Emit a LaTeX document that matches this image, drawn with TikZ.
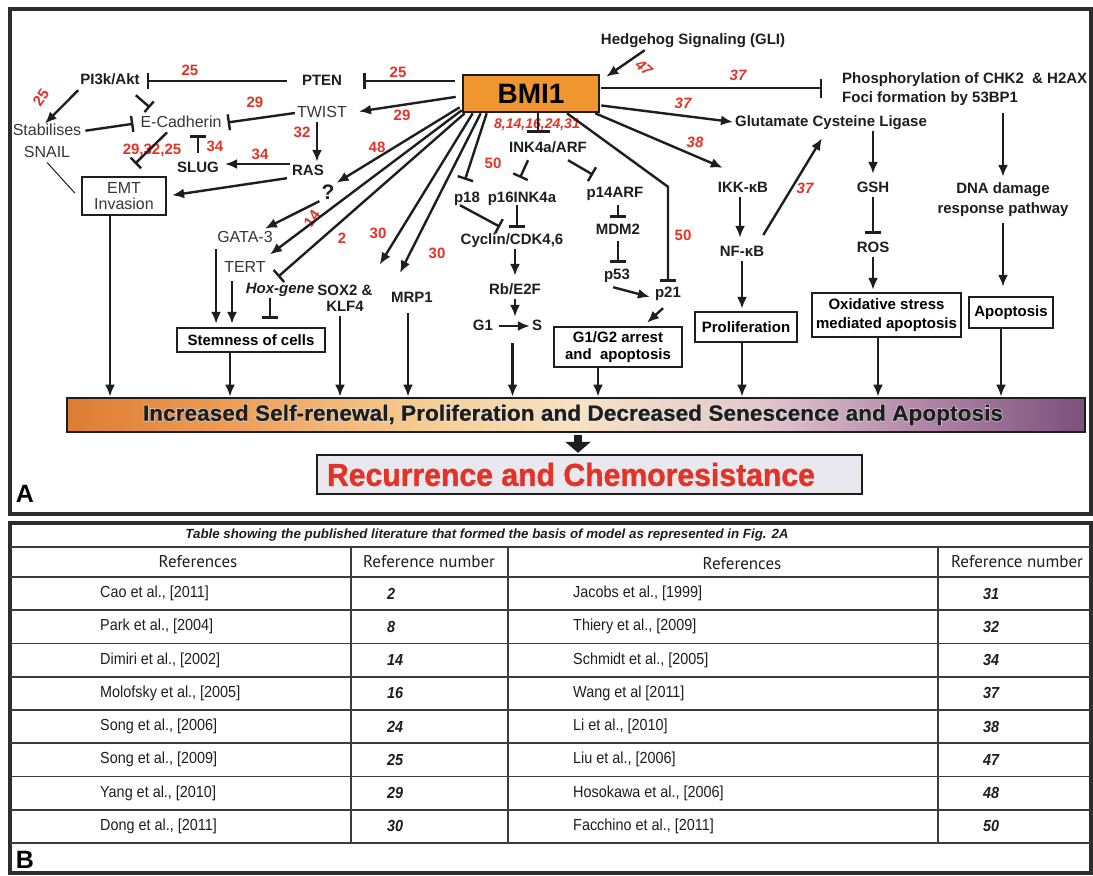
\documentclass[tikz,border=0pt]{standalone}
\usepackage{fontspec}
\setmainfont{Liberation Sans}
\newfontfamily\condfont[FakeStretch=0.9]{Liberation Sans}
\newfontfamily\hdrfont{PT Sans}
\newfontfamily\heavyfont{Liberation Sans Bold}[FakeBold=1.2]
\newfontfamily\halofont{Liberation Sans Bold}[FakeBold=5]
\usepackage{graphicx}
\usetikzlibrary{arrows.meta,calc}
\definecolor{refred}{RGB}{229,50,38}
\definecolor{bmiorange}{RGB}{240,150,48}
\definecolor{ink}{RGB}{30,30,30}
\definecolor{gr}{RGB}{55,55,55}
\definecolor{frame}{RGB}{45,45,45}
\definecolor{tline}{RGB}{60,60,60}
\definecolor{recfill}{RGB}{232,232,238}
\definecolor{s0}{RGB}{221,124,50}
\definecolor{s1}{RGB}{236,155,85}
\definecolor{s2}{RGB}{246,205,145}
\definecolor{s3}{RGB}{246,226,196}
\definecolor{s4}{RGB}{226,200,206}
\definecolor{s5}{RGB}{175,130,165}
\definecolor{s6}{RGB}{125,80,125}
\pgfdeclarehorizontalshading{barshade}{100bp}{color(0bp)=(s0); color(25bp)=(s0); color(32.5bp)=(s1); color(42.5bp)=(s2); color(50bp)=(s3); color(59bp)=(s4); color(67.5bp)=(s5); color(75bp)=(s6); color(100bp)=(s6)}
\tikzset{
  lb/.style={font=\fontsize{15}{17}\selectfont\bfseries, text=ink, inner sep=2pt, text height=11pt, text depth=3pt},
  lbm/.style={font=\fontsize{15}{16}\selectfont\bfseries, text=ink, inner sep=2pt, align=center},
  rg/.style={font=\fontsize{16}{18}\selectfont, text=gr, inner sep=2pt, text height=11.5pt, text depth=3pt},
  rn/.style={font=\fontsize{15}{17}\selectfont\bfseries, text=refred, inner sep=1pt},
  rni/.style={font=\fontsize{15}{17}\selectfont\bfseries\itshape, text=refred, inner sep=1pt},
  act/.style={draw=ink, line width=2.4pt, -{Latex[length=12pt,width=10pt]}},
  inh/.style={draw=ink, line width=2.4pt, -{Bar[width=16pt,line width=2.4pt]}},
  bx/.style={draw=ink, line width=2.4pt, fill=white, inner sep=2pt, align=center},
  tl/.style={draw=tline, line width=1.6pt},
  tref/.style={font=\condfont\fontsize{16}{18}\selectfont, text=ink, anchor=west, inner sep=0pt},
  tnum/.style={font=\condfont\fontsize{16}{18}\selectfont\bfseries\itshape, text=ink, anchor=west, inner sep=0pt},
  thd/.style={font=\hdrfont\fontsize{17}{19}\selectfont, text=ink, inner sep=0pt},
}
\begin{document}
\begin{tikzpicture}[x=1pt,y=-1pt]
\useasboundingbox (0,0) rectangle (1093,876);
\fill[white] (0,0) rectangle (1093,876);
% ---------- panel frames ----------
\draw[line width=3.2pt, draw=frame] (10,9) rectangle (1091,514);
\draw[line width=3.2pt, draw=frame] (10,523) rectangle (1091,873);

% ---------- nodes, left part ----------
\node[lb] (pi3k) at (110,80) {PI3k/Akt};
\node[lb] (pten) at (322,81) {PTEN};
\node[rg] (twist) at (322,113) {TWIST};
\node[rg] (ecad) at (181,123) {E-Cadherin};
\node[rg] (stab) at (47,131) {Stabilises};
\node[rg] (snail) at (47,153) {SNAIL};
\node[lb] (slug) at (198,168) {SLUG};
\node[lb] (ras) at (308,171) {RAS};
\node[font=\fontsize{21}{21}\selectfont\bfseries, text=ink, inner sep=2pt, text height=14pt, text depth=0pt] (q) at (328,192) {?};
\node[bx, font=\fontsize{16}{16}\selectfont, text=gr, minimum width=84pt, minimum height=38pt] (emt) at (124,196) {EMT\\Invasion};
\node[rg] (gata) at (245,238) {GATA-3};
\node[rg] (tert) at (245,268) {TERT};
\node[lb, font=\fontsize{15}{17}\selectfont\bfseries\itshape] (hox) at (280,289) {Hox-gene};
\node[lbm] (sox) at (345,298) {SOX2 \&\\KLF4};
\node[lb] (mrp) at (412,298) {MRP1};
\node[bx, font=\fontsize{15}{17}\selectfont\bfseries, minimum width=148pt, minimum height=24pt] (stem) at (251,340) {Stemness of cells};

% ---------- BMI1 and centre ----------
\node[draw=ink, line width=2.6pt, fill=bmiorange, minimum width=136pt, minimum height=37pt, inner sep=0pt, font=\fontsize{28}{28}\selectfont\bfseries, text=black] (bmi) at (531,93.5) {BMI1};
\node[lb] (hh) at (693,40) {Hedgehog Signaling (GLI)};
\node[lb] (ink) at (548,148) {INK4a/ARF};
\node[lb] (p18) at (467,198) {p18};
\node[lb] (p16) at (522,198) {p16INK4a};
\node[lb] (p14) at (615,193) {p14ARF};
\node[lb] (mdm2) at (618,230) {MDM2};
\node[lb] (p53) at (617,275) {p53};
\node[lb] (p21) at (668,293) {p21};
\node[lb] (cyc) at (512,240) {Cyclin/CDK4,6};
\node[lb] (rb) at (515,290) {Rb/E2F};
\node[lb] (g1) at (483,326) {G1};
\node[lb] (s) at (537,326) {S};
\node[bx, font=\fontsize{15}{17}\selectfont\bfseries, minimum width=128pt, minimum height=40pt] (g1g2) at (618,347) {G1/G2 arrest\\and\ \ apoptosis};

% ---------- right part ----------
\node[lbm, align=left, anchor=west, font=\fontsize{15}{19}\selectfont\bfseries] (phos) at (840,89.5) {Phosphorylation of CHK2\ \ \& H2AX\\Foci formation by 53BP1};
\node[lb] (glu) at (831,122) {Glutamate Cysteine Ligase};
\node[lb] (ikk) at (743,188) {IKK-κB};
\node[lb] (nfkb) at (742,252) {NF-κB};
\node[bx, font=\fontsize{15}{17}\selectfont\bfseries, minimum width=102pt, minimum height=30pt] (prolif) at (746,327) {Proliferation};
\node[lb] (gsh) at (873,188) {GSH};
\node[lb] (ros) at (873,248) {ROS};
\node[bx, font=\fontsize{15}{19}\selectfont\bfseries, minimum width=149pt, minimum height=44pt] (oxi) at (886.5,315) {Oxidative stress\\mediated apoptosis};
\node[lbm, font=\fontsize{15}{20}\selectfont\bfseries] (dna) at (1003,200) {DNA damage\\response pathway};
\node[bx, font=\fontsize{15}{17}\selectfont\bfseries, minimum width=84pt, minimum height=31pt] (apop) at (1011,312.5) {Apoptosis};

% ---------- bottom bars ----------
\node[draw=ink, line width=2.6pt, shade, shading=barshade, minimum width=1018pt, minimum height=34pt, inner sep=0pt] (bar) at (576,415) {};
\node[text=white, inner sep=0pt] (barhalo) at (573,415) {\resizebox{860pt}{16pt}{\halofont Increased Self-renewal, Proliferation and Decreased Senescence and Apoptosis}};
\node[text=ink, inner sep=0pt] (bartext) at (573,415) {\resizebox{860pt}{16pt}{\heavyfont Increased Self-renewal, Proliferation and Decreased Senescence and Apoptosis}};
\node[draw=ink, line width=2.4pt, fill=recfill, minimum width=545pt, minimum height=39pt, inner sep=0pt] (rec) at (589.5,474.5) {};
\node[text=refred, inner sep=0pt] (rectext) at (571,474.5) {\resizebox{488pt}{23pt}{\heavyfont Recurrence and Chemoresistance}};
\node[font=\fontsize{25}{25}\selectfont\bfseries, text=black, inner sep=0pt] (lA) at (25,494) {A};
\node[font=\fontsize{25}{25}\selectfont\bfseries, text=black, inner sep=0pt] (lB) at (25,860) {B};

% ---------- red reference numbers ----------
\node[rn] (n1) at (190,70) {25};
\node[rn] (n2) at (398,72) {25};
\node[rn, rotate=55] (n3) at (41,98) {25};
\node[rn] (n4) at (255,102) {29};
\node[rn] (n5) at (402,115) {29};
\node[rn] (n6) at (302,132) {32};
\node[rn] (n7) at (215,146) {34};
\node[rn] (n8) at (260,154) {34};
\node[rn] (n9) at (152,150) {29,32,25};
\node[rn] (n10) at (377,147) {48};
\node[rn, rotate=55] (n11) at (312,219) {14};
\node[rn] (n12) at (342,238) {2};
\node[rn] (n13) at (378,233) {30};
\node[rn] (n14) at (437,253) {30};
\node[rn] (n15) at (493,163) {50};
\node[rni, font=\fontsize{14}{16}\selectfont\bfseries\itshape] (n16) at (537,125) {8,14,16,24,31};
\node[rni, rotate=-40] (n17) at (644,68) {47};
\node[rni] (n18) at (738,75) {37};
\node[rni] (n19) at (683,103) {37};
\node[rni] (n20) at (695,142) {38};
\node[rni] (n21) at (805,188) {37};
\node[rn] (n22) at (683,235) {50};

% ---------- helper points for vertical connectors ----------
\coordinate (cEmt) at ($(emt.south)+(-14,0)$);
\coordinate (cGata) at ($(gata.south west)+(1,2)$);
\coordinate (cTert) at ($(tert.south)+(-13,0)$);
\coordinate (cHox) at ($(hox.south)+(-10,0)$);
\coordinate (cStem) at ($(stem.south)+(-21,0)$);
\coordinate (cSox) at ($(sox.south)+(-5,0)$);
\coordinate (cMrp) at ($(mrp.south)+(-4,0)$);
\coordinate (cG1g2) at ($(g1g2.south)+(-20,0)$);
\coordinate (cProl) at ($(prolif.south)+(-4,0)$);
\coordinate (cOxi) at ($(oxi.south)+(-8.5,0)$);
\coordinate (cApop) at ($(apop.south)+(-10,0)$);
\coordinate (gs) at ($(g1.east)!0.5!(s.west)$);

% ---------- connectors, left ----------
\draw[inh, shorten <=13pt, shorten >=5pt] (pten.west) -- (pi3k.east |- pten.west);
\draw[inh, shorten <=7pt, shorten >=19pt] (bmi.west |- pten.east) -- (pten.east);
\draw[act, shorten <=6pt, shorten >=10pt] ($(bmi.west)+(0,2.5)$) -- (twist.east);
\draw[act, shorten >=-3pt] ($(pi3k.south west)+(0,1)$) -- (stab.north);
\draw[inh, -{Bar[width=14pt,line width=2.4pt]}] ($(pi3k.south east)+(-6,6)$) -- ($(ecad.north)+(-31,-6)$);
\draw[inh, shorten <=2pt, shorten >=5pt] (stab.east) -- (ecad.west);
\draw[inh, shorten >=4pt] (twist.west) -- (ecad.east);
\draw[draw=ink, line width=1pt] (snail.south) -- ($(emt.west)+(-6,-3)$);
\draw[inh, -{Bar[width=15pt,line width=2.4pt]}] ($(ecad.south)+(-14,0)$) -- ($(emt.north)+(11,-12)$);
\draw[inh, shorten <=6pt, shorten >=3pt] (slug.north) -- (slug.north |- ecad.south);
\draw[act] ($(ras.west)+(0,-7)$) -- ($(slug.east)+(4,-4)$);
\draw[act] ($(twist.south)+(-5,0)$) -- ($(ras.north)+(9,0)$);
\draw[act, shorten >=5pt] ($(ras.south west)+(-3,-2)$) -- (emt.east);
\draw[act] ($(bmi.south west)+(-2,-6)$) -- (q.north east);
\draw[act] (q.south west) -- ($(gata.north east)+(-10,0)$);
\draw[act] ($(bmi.south west)+(0,-3)$) -- ($(tert.north east)+(2,-4)$);
\draw[inh] ($(bmi.south west)+(3,0)$) -- ($(hox.north)+(-2,-3)$);
\draw[act] ($(bmi.south west)+(11,0)$) -- ($(sox.north east)+(5,-18)$);
\draw[act] ($(bmi.south west)+(19,0)$) -- ($(mrp.north)+(-12,-16)$);
\draw[inh] ($(bmi.south west)+(25,0)$) -- ($(p18.north)+(-2,-9)$);

% ---------- connectors, centre ----------
\draw[inh, -{Bar[width=23pt,line width=2.4pt]}] ($(bmi.south)+(7,0)$) -- ($(ink.north)+(-10,-6)$);
\draw[inh] ($(ink.south)+(-20,3)$) -- ($(p16.north)+(-2,-11)$);
\draw[inh] ($(ink.south)+(20,3)$) -- ($(p14.north)+(-22,-9)$);
\draw[inh] ($(p14.south)+(3,3)$) -- ($(mdm2.north)+(0,-3)$);
\draw[inh] ($(mdm2.south)+(0,2)$) -- ($(p53.north)+(1,-3)$);
\draw[act] ($(p53.south east)+(-19,3)$) -- ($(p21.west)+(-3,4)$);
\draw[inh] ($(bmi.south)+(36,0)$) -- ($(p21.north)+(0,-97)$) -- ($(p21.north)+(0,-2)$);
\draw[inh] ($(p18.south)+(-7,-2)$) -- ($(cyc.north)+(-12,-4)$);
\draw[inh] ($(p16.south)+(-5,-2)$) -- ($(cyc.north)+(5,-3)$);
\draw[act, shorten >=5pt] ($(cyc.south)+(3,0)$) -- (rb.north);
\draw[act] (rb.south) -- (rb.south |- g1.north);
\draw[act, shorten <=4pt] (g1.east) -- (s.west);
\draw[act, shorten <=8pt] (gs |- s.south) -- (gs |- bar.north);
\draw[act] ($(p21.south)+(-5,6)$) -- ($(g1g2.north)+(29,-3)$);
\draw[act] (cG1g2) -- (cG1g2 |- bar.north);

% ---------- connectors, right ----------
\draw[act] ($(hh.south west)+(46,1)$) -- ($(bmi.north east)+(6,3)$);
\draw[inh, -{Bar[width=19pt,line width=2.4pt]}] ($(bmi.east)+(1,-5.5)$) -- ($(phos.west)+(-18,-1.5)$);
\draw[act] ($(bmi.east)+(1,12)$) -- (glu.west);
\draw[act] ($(bmi.south east)+(-5,0)$) -- ($(ikk.north west)+(7,-11)$);
\draw[act, shorten >=5pt] ($(ikk.south)+(-3,0)$) -- ($(nfkb.north)+(-2,0)$);
\draw[act] ($(nfkb.east)+(-3,-17)$) -- ($(glu.south)+(-9,7)$);
\draw[act, shorten >=2pt] (nfkb.south) -- (nfkb.south |- prolif.north);
\draw[act] (cProl) -- (cProl |- bar.north);
\draw[act, shorten >=5pt] (gsh |- glu.south) -- (gsh.north);
\draw[inh] (gsh.south) -- ($(ros.north)+(0,-5)$);
\draw[act, shorten >=2pt] (ros.south) -- (ros.south |- oxi.north);
\draw[act] (cOxi) -- (cOxi |- bar.north);
\draw[act, shorten <=5pt, shorten >=4pt] (dna.north |- phos.south) -- (dna.north);
\draw[act, shorten <=4pt, shorten >=9pt] (dna.south) -- (dna.south |- apop.north);
\draw[act] (cApop) -- (cApop |- bar.north);

% ---------- connectors, left bottom ----------
\draw[act] (cEmt) -- (cEmt |- bar.north);
\draw[act, shorten >=3pt] (cGata) -- (cGata |- stem.north);
\draw[act, shorten <=4pt, shorten >=3pt] (cTert) -- (cTert |- stem.north);
\draw[inh, shorten >=8pt] (cHox) -- (cHox |- stem.north);
\draw[act] (cStem) -- (cStem |- bar.north);
\draw[act, shorten <=3pt] (cSox) -- (cSox |- bar.north);
\draw[act, shorten <=6pt] (cMrp) -- (cMrp |- bar.north);
\draw[draw=ink, line width=8pt, -{Triangle[length=11pt,width=25pt]}] ($(bar.south)+(2,2)$) -- ($(rec.north)+(-11.5,-1)$);

% ---------- table ----------
\draw[tl] (10,547) -- (1091,547);
\foreach \yy in {577,610.25,643.5,676.75,710,743.25,776.5,809.75,843} \draw[tl] (10,\yy) -- (1091,\yy);
\foreach \xx in {351,508,938} \draw[tl] (\xx,547) -- (\xx,843);
\node[font=\fontsize{13}{15}\selectfont\bfseries\itshape, text=ink, inner sep=0pt] (ttitle) at (487,535) {\resizebox{603pt}{!}{Table showing the published literature that formed the basis of model as represented in Fig. 2A}};
\node[thd] (h1) at (198,562) {References};
\node[thd] (h2) at (429,562) {Reference number};
\node[thd] (h3) at (742,564) {References};
\node[thd] (h4) at (1017,562) {Reference number};
\foreach \lref/\lnum/\rref/\rnum [count=\i] in {
 {Cao et al., [2011]}/2/{Jacobs et al., [1999]}/31,
 {Park et al., [2004]}/8/{Thiery et al., [2009]}/32,
 {Dimiri et al., [2002]}/14/{Schmidt et al., [2005]}/34,
 {Molofsky et al., [2005]}/16/{Wang et al [2011]}/37,
 {Song et al., [2006]}/24/{Li et al., [2010]}/38,
 {Song et al., [2009]}/25/{Liu et al., [2006]}/47,
 {Yang et al., [2010]}/29/{Hosokawa et al., [2006]}/48,
 {Dong et al., [2011]}/30/{Facchino et al., [2011]}/50} {
  \pgfmathsetmacro\yc{577+16.6+(\i-1)*33.25}
  \node[tref] (la\i) at (100,\yc) {\lref};
  \node[tnum] (lb\i) at (387,\yc) {\lnum};
  \node[tref] (ra\i) at (573,\yc) {\rref};
  \node[tnum] (rb\i) at (983,\yc) {\rnum};
}
\end{tikzpicture}
\end{document}
